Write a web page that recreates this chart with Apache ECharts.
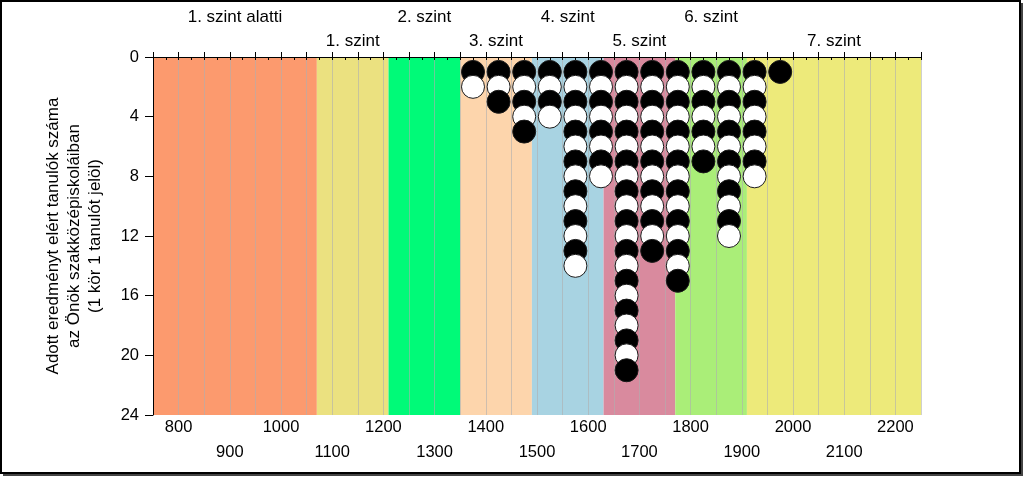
<!DOCTYPE html>
<html><head><meta charset="utf-8">
<script src="https://cdn.jsdelivr.net/npm/echarts@6/dist/echarts.min.js"></script>
<style>html,body{margin:0;padding:0;background:#fff}#c{width:1024px;height:478px}</style>
</head><body><div id="c"></div>
<script>
// ---- data ----
const binCenters = [1375, 1425, 1475, 1525, 1575, 1625, 1675, 1725, 1775, 1825, 1875, 1925, 1975];
const studentCounts = [2, 3, 5, 4, 14, 8, 21, 13, 15, 7, 12, 8, 1];
const levelNames = ['1. szint alatti', '1. szint', '2. szint', '3. szint', '4. szint', '5. szint', '6. szint', '7. szint'];
const levelBounds = [750, 1070, 1210, 1350, 1490, 1630, 1770, 1910, 2250];
const yTitleLines = ['Adott eredményt elért tanulók száma', 'az Önök szakközépiskoláiban', '(1 kör 1 tanulót jelöl)'];

// ---- styles ----
const bandColors = ['#FC9A6E', '#EBE180', '#00FA78', '#FDD5AC', '#A8D3E2', '#D98A9E', '#AAEE78', '#EDEA7A'];
const FONT = 'Arial, "Liberation Sans", sans-serif';

const bandData = levelNames.map((n, i) => [levelBounds[i], levelBounds[i + 1], 0]);
const dots = [];
binCenters.forEach((b, i) => {
  for (let k = 1; k <= studentCounts[i]; k++) {
    dots.push({ value: [b, k], itemStyle: { color: k % 2 ? '#000000' : '#ffffff' } });
  }
});

const chart = echarts.init(document.getElementById('c'), null, { renderer: 'canvas' });
chart.setOption({
  animation: false,
  backgroundColor: '#ffffff',
  textStyle: { fontFamily: FONT },
  grid: { left: 153, right: 103, top: 57, bottom: 63 },
  xAxis: [
    {
      type: 'value', position: 'bottom', min: 750, max: 2250, interval: 25, z: 2,
      axisLine: { lineStyle: { color: '#000', width: 1 } },
      axisTick: { show: true, length: 3, lineStyle: { color: '#000' } },
      splitLine: { show: false },
      axisLabel: {
        interval: 0, margin: 0, color: '#000', fontSize: 16.5, fontFamily: FONT, lineHeight: 25,
        verticalAlign: 'top',
        formatter: v => (v % 200 === 0 ? String(v) : (v % 100 === 0 ? '\n' + v : ''))
      }
    },
    {
      type: 'value', position: 'top', min: 750, max: 2250, interval: 50, z: 2,
      axisLine: { lineStyle: { color: '#000', width: 1 } },
      axisTick: { show: true, length: 5, lineStyle: { color: '#000' } },
      axisLabel: { show: false },
      splitLine: { show: true, lineStyle: { color: 'rgba(175,175,175,0.6)', width: 1 } }
    }
  ],
  yAxis: {
    type: 'value', inverse: true, min: 0, max: 24, interval: 4, z: 2,
    axisLine: { show: true, lineStyle: { color: '#000' } },
    axisTick: { show: true, length: 8, lineStyle: { color: '#000' } },
    splitLine: { show: false },
    axisLabel: { color: '#000', fontSize: 16.5, margin: 14, fontFamily: FONT },
    name: yTitleLines.join('\n'), nameLocation: 'middle', nameGap: 47, nameRotate: 90,
    nameTextStyle: { color: '#000', fontSize: 17, lineHeight: 21, fontFamily: FONT, align: 'center' }
  },
  series: [
    {
      type: 'custom', z: 1, silent: true,
      data: bandData,
      encode: { x: [0, 1], y: 2 },
      renderItem: function (params, api) {
        const i = params.dataIndex;
        const s = api.value(0), e = api.value(1);
        const p0 = api.coord([s, 0]);
        const p1 = api.coord([e, 24]);
        const cx = api.coord([(s + e) / 2, 0])[0];
        const top = params.coordSys.y;
        return {
          type: 'group',
          children: [
            { type: 'rect', shape: { x: p0[0], y: p0[1], width: p1[0] - p0[0], height: p1[1] - p0[1] },
              style: { fill: bandColors[i] } },
            { type: 'text', x: cx, y: top - (i % 2 === 0 ? 40 : 16),
              style: { text: levelNames[i], fill: '#000', font: '17px ' + FONT, align: 'center', verticalAlign: 'middle' } }
          ]
        };
      }
    },
    {
      type: 'scatter', z: 3, silent: true,
      symbol: 'circle', symbolSize: 23,
      itemStyle: { borderColor: '#1a1a1a', borderWidth: 1, opacity: 1 },
      data: dots
    }
  ],
  graphic: [
    { type: 'rect', z: 10, shape: { x: 1, y: 1, width: 1019, height: 472 },
      style: { fill: 'none', stroke: '#000', lineWidth: 2 } },
    { type: 'rect', z: 10, shape: { x: 3, y: 474, width: 1019, height: 2 }, style: { fill: '#444' } },
    { type: 'rect', z: 10, shape: { x: 1021, y: 3, width: 2, height: 473 }, style: { fill: '#444' } }
  ]
});
</script></body></html>
